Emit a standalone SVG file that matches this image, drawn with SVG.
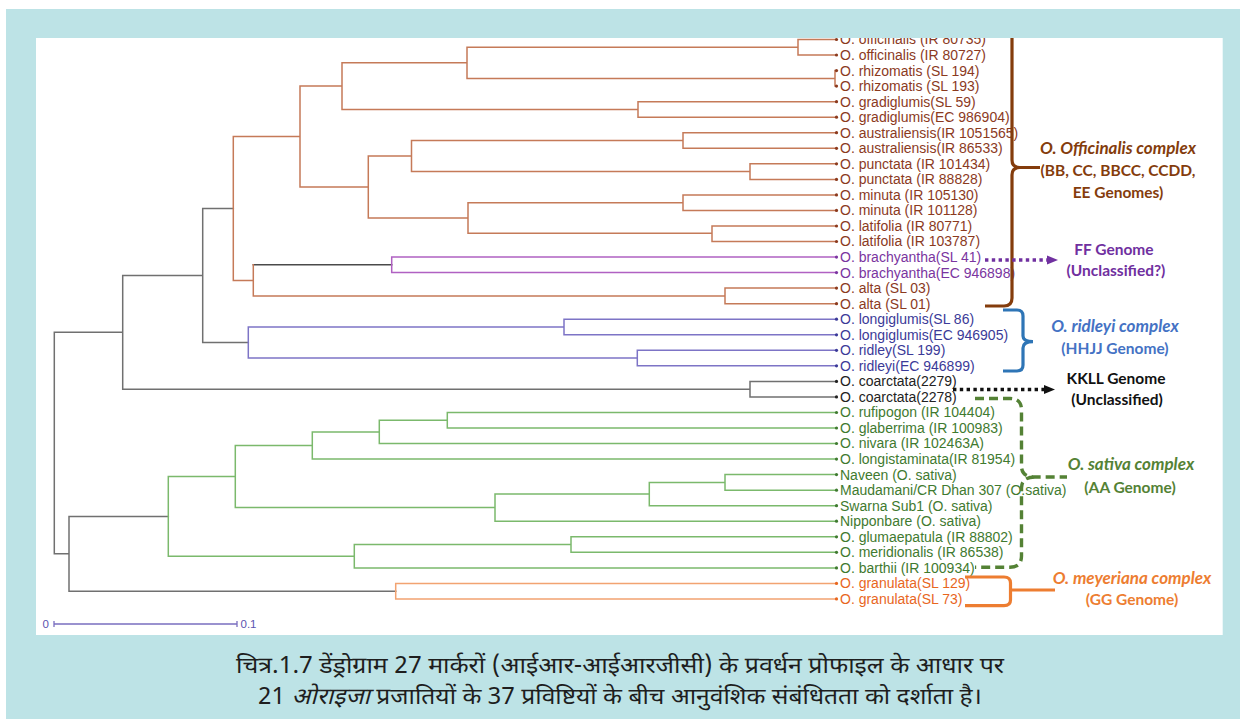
<svg xmlns="http://www.w3.org/2000/svg" width="1240" height="719" viewBox="0 0 1240 719">
<style>
.e{fill:none;stroke-width:1.5;stroke-linecap:square}
.gy{stroke:#707070}.dk{stroke:#4a4a4a}.sa{stroke:#c57a58}.mg{stroke:#b061c2}.bp{stroke:#7d74c6}.gr{stroke:#7bb96c}.or{stroke:#f2a371}
.lf{font-family:"Liberation Sans",Arial,sans-serif;font-size:14px}
.tb{fill:#8b3a1e}.tp{fill:#7a35a0}.tn{fill:#3b3a98}.tk{fill:#222}.tg{fill:#3f7a30}.to{fill:#e8661e}
.an{font-family:Lato,"Open Sans",sans-serif;font-weight:bold;font-size:15.5px;text-anchor:middle}
.it{font-style:italic;font-size:17px}
.br{fill:none;stroke-width:3.2;stroke-linecap:butt;stroke-linejoin:round}
.cap{font-family:"Noto Sans Devanagari","Noto Sans",sans-serif;font-size:23px;fill:#1e1e1e;text-anchor:middle}
</style>
<rect width="1240" height="719" fill="#fff"/>
<g id="connectors">
<path class="e gy" d="M54.3,332.3V553.8M54.3,332.3H122.7M54.3,553.8H69M122.7,275.5V389.2M122.7,275.5H202.7M122.7,389.2H750M202.7,208.5V342.5M202.7,208.5H233.3M202.7,342.5H248.3M750,381.4V396.9M750,381.4H836M750,396.9H836M69,516.4V591.2M69,516.4H168.3M69,591.2H395.7"/>
<path class="e dk" d="M253.3,264.8H391.7"/>
<path class="e sa" d="M233.3,136.6V280.4M233.3,136.6H300M233.3,280.4H253.3M300,86.1V187M300,86.1H342M300,187H368.3M342,62.8V109.4M342,62.8H467M342,109.4H638M467,47.3V78.4M467,47.3H798M467,78.4H835M798,39.5V55M798,39.5H836M798,55H836M835,70.6V86.1M638,101.7V117.2M638,101.7H836M638,117.2H836M368.3,156.1V218M368.3,156.1H411.5M368.3,218H468M411.5,140.5V171.6M411.5,140.5H683M411.5,171.6H750M683,132.7V148.3M683,132.7H836M683,148.3H836M750,163.8V179.4M750,163.8H836M750,179.4H836M468,202.7V233.2M468,202.7H683M468,233.2H712M683,194.9V210.4M683,194.9H836M683,210.4H836M712,226V241.5M712,226H836M712,241.5H836M253.3,264.8V295.9M253.3,295.9H725M725,288.1V303.7M725,288.1H836M725,303.7H836"/>
<path class="e mg" d="M391.7,257.1V272.6M391.7,257.1H836M391.7,272.6H836"/>
<path class="e bp" d="M248.3,327V358.1M248.3,327H564M248.3,358.1H637.3M564,319.2V334.8M564,319.2H836M564,334.8H836M637.3,350.3V365.8M637.3,350.3H836M637.3,365.8H836"/>
<path class="e gr" d="M168.3,476.6V556.2M168.3,476.6H235.3M168.3,556.2H354.3M235.3,445.5V507.6M235.3,445.5H312.3M235.3,507.6H495M312.3,431.9V459.1M312.3,431.9H379.3M312.3,459.1H836M379.3,420.2V443.5M379.3,420.2H447.3M379.3,443.5H836M447.3,412.5V428M447.3,412.5H836M447.3,428H836M495,494.1V521.2M495,494.1H649.3M495,521.2H836M649.3,482.4V505.7M649.3,482.4H725M649.3,505.7H836M725,474.6V490.2M725,474.6H836M725,490.2H836M354.3,544.6V567.9M354.3,544.6H571M354.3,567.9H836M571,536.8V552.3M571,536.8H836M571,552.3H836"/>
<path class="e or" d="M395.7,583.4V598.9M395.7,583.4H836M395.7,598.9H836"/>
</g>
<g class="lf">
<g id="leaf1" class="tb"><circle cx="836.5" cy="39.5" r="1.6"/><text x="840" y="44.4">O. officinalis (IR 80735)</text></g>
<g id="leaf2" class="tb"><circle cx="836.5" cy="55" r="1.6"/><text x="840" y="59.9">O. officinalis (IR 80727)</text></g>
<g id="leaf3" class="tb"><circle cx="836.5" cy="70.6" r="1.6"/><text x="840" y="75.5">O. rhizomatis (SL 194)</text></g>
<g id="leaf4" class="tb"><circle cx="836.5" cy="86.1" r="1.6"/><text x="840" y="91">O. rhizomatis (SL 193)</text></g>
<g id="leaf5" class="tb"><circle cx="836.5" cy="101.7" r="1.6"/><text x="840" y="106.6">O. gradiglumis(SL 59)</text></g>
<g id="leaf6" class="tb"><circle cx="836.5" cy="117.2" r="1.6"/><text x="840" y="122.1">O. gradiglumis(EC 986904)</text></g>
<g id="leaf7" class="tb"><circle cx="836.5" cy="132.7" r="1.6"/><text x="840" y="137.6">O. australiensis(IR 1051565)</text></g>
<g id="leaf8" class="tb"><circle cx="836.5" cy="148.3" r="1.6"/><text x="840" y="153.2">O. australiensis(IR 86533)</text></g>
<g id="leaf9" class="tb"><circle cx="836.5" cy="163.8" r="1.6"/><text x="840" y="168.7">O. punctata (IR 101434)</text></g>
<g id="leaf10" class="tb"><circle cx="836.5" cy="179.4" r="1.6"/><text x="840" y="184.3">O. punctata (IR 88828)</text></g>
<g id="leaf11" class="tb"><circle cx="836.5" cy="194.9" r="1.6"/><text x="840" y="199.8">O. minuta (IR 105130)</text></g>
<g id="leaf12" class="tb"><circle cx="836.5" cy="210.4" r="1.6"/><text x="840" y="215.3">O. minuta (IR 101128)</text></g>
<g id="leaf13" class="tb"><circle cx="836.5" cy="226" r="1.6"/><text x="840" y="230.9">O. latifolia (IR 80771)</text></g>
<g id="leaf14" class="tb"><circle cx="836.5" cy="241.5" r="1.6"/><text x="840" y="246.4">O. latifolia (IR 103787)</text></g>
<g id="leaf15" class="tp"><circle cx="836.5" cy="257.1" r="1.6"/><text x="840" y="262">O. brachyantha(SL 41)</text></g>
<g id="leaf16" class="tp"><circle cx="836.5" cy="272.6" r="1.6"/><text x="840" y="277.5">O. brachyantha(EC 946898)</text></g>
<g id="leaf17" class="tb"><circle cx="836.5" cy="288.1" r="1.6"/><text x="840" y="293">O. alta (SL 03)</text></g>
<g id="leaf18" class="tb"><circle cx="836.5" cy="303.7" r="1.6"/><text x="840" y="308.6">O. alta (SL 01)</text></g>
<g id="leaf19" class="tn"><circle cx="836.5" cy="319.2" r="1.6"/><text x="840" y="324.1">O. longiglumis(SL 86)</text></g>
<g id="leaf20" class="tn"><circle cx="836.5" cy="334.8" r="1.6"/><text x="840" y="339.7">O. longiglumis(EC 946905)</text></g>
<g id="leaf21" class="tn"><circle cx="836.5" cy="350.3" r="1.6"/><text x="840" y="355.2">O. ridley(SL 199)</text></g>
<g id="leaf22" class="tn"><circle cx="836.5" cy="365.8" r="1.6"/><text x="840" y="370.7">O. ridleyi(EC 946899)</text></g>
<g id="leaf23" class="tk"><circle cx="836.5" cy="381.4" r="1.6"/><text x="840" y="386.3">O. coarctata(2279)</text></g>
<g id="leaf24" class="tk"><circle cx="836.5" cy="396.9" r="1.6"/><text x="840" y="401.8">O. coarctata(2278)</text></g>
<g id="leaf25" class="tg"><circle cx="836.5" cy="412.5" r="1.6"/><text x="840" y="417.4">O. rufipogon (IR 104404)</text></g>
<g id="leaf26" class="tg"><circle cx="836.5" cy="428" r="1.6"/><text x="840" y="432.9">O. glaberrima (IR 100983)</text></g>
<g id="leaf27" class="tg"><circle cx="836.5" cy="443.5" r="1.6"/><text x="840" y="448.4">O. nivara (IR 102463A)</text></g>
<g id="leaf28" class="tg"><circle cx="836.5" cy="459.1" r="1.6"/><text x="840" y="464">O. longistaminata(IR 81954)</text></g>
<g id="leaf29" class="tg"><circle cx="836.5" cy="474.6" r="1.6"/><text x="840" y="479.5">Naveen (O. sativa)</text></g>
<g id="leaf30" class="tg"><circle cx="836.5" cy="490.2" r="1.6"/><text x="840" y="495.1">Maudamani/CR Dhan 307 (O.sativa)</text></g>
<g id="leaf31" class="tg"><circle cx="836.5" cy="505.7" r="1.6"/><text x="840" y="510.6">Swarna Sub1 (O. sativa)</text></g>
<g id="leaf32" class="tg"><circle cx="836.5" cy="521.2" r="1.6"/><text x="840" y="526.1">Nipponbare (O. sativa)</text></g>
<g id="leaf33" class="tg"><circle cx="836.5" cy="536.8" r="1.6"/><text x="840" y="541.7">O. glumaepatula (IR 88802)</text></g>
<g id="leaf34" class="tg"><circle cx="836.5" cy="552.3" r="1.6"/><text x="840" y="557.2">O. meridionalis (IR 86538)</text></g>
<g id="leaf35" class="tg"><circle cx="836.5" cy="567.9" r="1.6"/><text x="840" y="572.8">O. barthii (IR 100934)</text></g>
<g id="leaf36" class="to"><circle cx="836.5" cy="583.4" r="1.6"/><text x="840" y="588.3">O. granulata(SL 129)</text></g>
<g id="leaf37" class="to"><circle cx="836.5" cy="598.9" r="1.6"/><text x="840" y="603.8">O. granulata(SL 73)</text></g>
</g>
<g id="officinalis-complex">
<path class="br" stroke="#843c0c" d="M1012,30V160Q1012,167.5 1020,167.5H1040M1020,167.5Q1012,167.5 1012,175V298Q1012,306 1004,306H985"/>
<text class="an it" x="1118" y="153.5" fill="#843c0c">O. Officinalis complex</text>
<text class="an" x="1118" y="175.5" fill="#843c0c">(BB, CC, BBCC, CCDD,</text>
<text class="an" x="1118" y="197.5" fill="#843c0c">EE Genomes)</text>
</g>
<g id="ff-genome">
<path fill="none" stroke="#7030a0" stroke-width="3.4" stroke-dasharray="3.4 3.4" d="M985,260H1047"/>
<path fill="#7030a0" d="M1047,255.5L1058,260L1047,264.5Z"/>
<text class="an" x="1114" y="255" fill="#7030a0">FF Genome</text>
<text class="an" x="1116" y="275.5" fill="#7030a0">(Unclassified?)</text>
</g>
<g id="ridleyi-complex">
<path class="br" stroke="#2e75b6" d="M1003,310H1017Q1023,310 1023,316V336Q1023,341.7 1033,341.7M1033,341.7Q1023,341.7 1023,348V365Q1023,371 1017,371H1003"/>
<text class="an it" x="1115" y="332" fill="#4472c4">O. ridleyi complex</text>
<text class="an" x="1115" y="354" fill="#4472c4">(HHJJ Genome)</text>
</g>
<g id="kkll-genome">
<path fill="none" stroke="#111" stroke-width="3.4" stroke-dasharray="3.4 3.4" d="M953,389.5H1044"/>
<path fill="#111" d="M1044,385L1055,389.5L1044,394Z"/>
<text class="an" x="1116" y="384" fill="#111">KKLL Genome</text>
<text class="an" x="1117" y="405" fill="#111">(Unclassified)</text>
</g>
<g id="sativa-complex">
<path fill="none" stroke="#548235" stroke-width="3.4" stroke-dasharray="9 5" d="M975,398.5H1010Q1021.5,398.5 1021.5,410V466Q1021.5,477 1035,477H1067M1035,477Q1021.5,477 1021.5,488V556Q1021.5,567.3 1010,567.3H975"/>
<text class="an it" x="1131" y="470" fill="#548235">O. sativa complex</text>
<text class="an" x="1130" y="493" fill="#548235">(AA Genome)</text>
</g>
<g id="meyeriana-complex">
<path class="br" stroke="#ed7d31" d="M965,577H1004Q1010.5,577 1010.5,583V600Q1010.5,605.7 1004,605.7H965M1010.5,590H1055"/>
<text class="an it" x="1132" y="584" fill="#ed7d31">O. meyeriana complex</text>
<text class="an" x="1132" y="605" fill="#ed7d31">(GG Genome)</text>
</g>
<g id="scale-bar">
<path fill="none" stroke="#7a6fc0" stroke-width="1.3" d="M54,624H237M54,621V627M237,621V627"/>
<text x="42.5" y="628" font-family="Liberation Sans,Arial,sans-serif" font-size="11.5" fill="#5a55b0">0</text>
<text x="240.5" y="628" font-family="Liberation Sans,Arial,sans-serif" font-size="11.5" fill="#5a55b0">0.1</text>
</g>
<path fill="#bde3e6" fill-rule="evenodd" d="M6,9H1240V719H6ZM36,38V635H1222.7V38Z"/>
<g id="caption">
<text class="cap" x="620" y="673" textLength="768" lengthAdjust="spacingAndGlyphs">चित्र.1.7 डेंड्रोग्राम 27 मार्करों (आईआर-आईआरजीसी) के प्रवर्धन प्रोफाइल के आधार पर</text>
<text class="cap" x="620" y="704" textLength="724" lengthAdjust="spacingAndGlyphs">21 <tspan font-style="italic">ओराइजा</tspan> प्रजातियों के 37 प्रविष्टियों के बीच आनुवंशिक संबंधितता को दर्शाता है।</text>
</g>
</svg>
